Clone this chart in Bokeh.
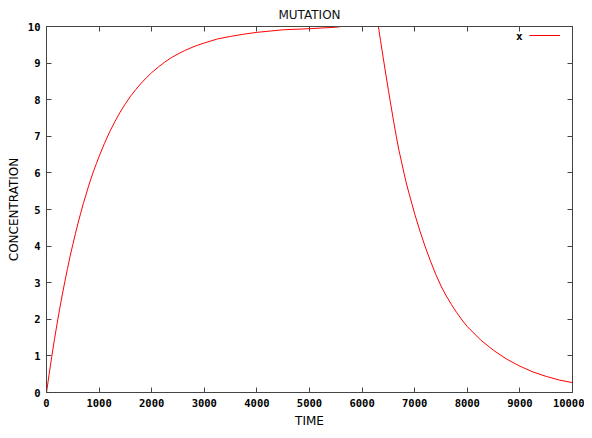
from bokeh.plotting import figure
from bokeh.models import (Range1d, FixedTicker, LinearAxis, CustomJSTickFormatter,
                          Legend, LegendItem, Label)
from bokeh.embed import file_html
from bokeh.resources import INLINE

# ---- data ----
time = [0, 50, 100, 150, 200, 250, 300, 350, 400, 450, 500, 550, 600, 650,
        700, 750, 800, 850, 900, 950, 1000, 1100, 1200, 1300, 1400, 1500,
        1600, 1700, 1800, 1900, 2000, 2125, 2250, 2375, 2500, 2625, 2750,
        2875, 3000, 3250, 3500, 3750, 4000, 4500, 5000, 5500, 5600, 6310,
        6350, 6400, 6450, 6500, 6550, 6600, 6650, 6700, 6750, 6800, 6850,
        6900, 6950, 7000, 7100, 7200, 7300, 7400, 7500, 7600, 7700, 7800,
        7900, 8000, 8250, 8500, 8750, 9000, 9250, 9500, 9750, 10000]
conc = [0.00, 0.50, 0.98, 1.44, 1.87, 2.28, 2.67, 3.04, 3.39, 3.73, 4.04,
        4.34, 4.63, 4.90, 5.16, 5.40, 5.64, 5.86, 6.07, 6.26, 6.45, 6.80,
        7.12, 7.40, 7.66, 7.89, 8.10, 8.28, 8.45, 8.60, 8.74, 8.89, 9.03,
        9.15, 9.25, 9.34, 9.42, 9.49, 9.55, 9.66, 9.73, 9.79, 9.84, 9.91,
        9.94, 9.98, 10.00, 10.00,
        9.62, 9.16, 8.70, 8.26, 7.83, 7.40, 7.00, 6.62, 6.30, 5.97, 5.67,
        5.40, 5.14, 4.88, 4.41, 3.98, 3.59, 3.23, 2.91, 2.64, 2.40, 2.18,
        1.98, 1.80, 1.44, 1.15, 0.91, 0.72, 0.56, 0.44, 0.34, 0.27]
x_ticks = [0, 1000, 2000, 3000, 4000, 5000, 6000, 7000, 8000, 9000, 10000]
y_ticks = [0, 1, 2, 3, 4, 5, 6, 7, 8, 9, 10]
series_name = "x"

FRAME = "#444444"
TICKFONT = "DejaVu Sans Mono"

p = figure(width=584, height=430, output_backend="svg", toolbar_location=None,
           x_range=Range1d(0, 10000), y_range=Range1d(0, 10),
           min_border_left=46, min_border_right=12, min_border_top=26,
           min_border_bottom=34, title="MUTATION")
p.title.align = "center"
p.title.text_font = "DejaVu Sans"
p.title.text_font_size = "12px"
p.title.text_font_style = "normal"
p.title.text_color = "#111111"
p.title.standoff = 9
p.title.offset = 0

p.grid.visible = False
p.outline_line_color = FRAME
p.background_fill_color = "white"
p.border_fill_color = "white"

def style_axis(ax, labels=True):
    ax.axis_line_color = FRAME
    ax.major_tick_line_color = FRAME
    ax.major_tick_in = 5
    ax.major_tick_out = 0
    ax.minor_tick_line_color = None
    ax.major_label_text_font = TICKFONT
    ax.major_label_text_font_size = "10.5px"
    ax.major_label_text_font_style = "bold"
    ax.major_label_text_color = "black"
    ax.major_label_standoff = 6
    ax.axis_label_text_font = "DejaVu Sans"
    ax.axis_label_text_font_size = "12px"
    ax.axis_label_text_font_style = "normal"
    ax.axis_label_text_color = "black"
    ax.axis_label_standoff = 4
    if not labels:
        ax.formatter = CustomJSTickFormatter(code="return '';")
        ax.major_label_standoff = 0

p.xaxis.ticker = FixedTicker(ticks=x_ticks)
p.yaxis.ticker = FixedTicker(ticks=y_ticks)
p.xaxis.axis_label = "TIME"
p.yaxis.axis_label = "CONCENTRATION"
for ax in p.xaxis:
    style_axis(ax)
for ax in p.yaxis:
    style_axis(ax)

top_ax = LinearAxis(ticker=FixedTicker(ticks=x_ticks))
right_ax = LinearAxis(ticker=FixedTicker(ticks=y_ticks))
style_axis(top_ax, labels=False)
style_axis(right_ax, labels=False)
p.add_layout(top_ax, "above")
p.add_layout(right_ax, "right")

r = p.line(time, conc, line_color="#ff0000", line_width=1)

legend = Legend(items=[LegendItem(label=" ", renderers=[r])],
                location="top_right", margin=0, padding=0,
                label_standoff=0, label_width=12, label_height=18,
                glyph_width=31, glyph_height=18, spacing=0,
                border_line_color=None, background_fill_alpha=0)
legend.label_text_font_size = "11px"
p.add_layout(legend)

p.add_layout(Label(x=8990, y=9.73, text=series_name, text_align="center",
                   text_baseline="middle", text_font=TICKFONT,
                   text_font_size="11px", text_font_style="bold",
                   text_color="black"))

open("out.html", "w").write(file_html(p, INLINE))
